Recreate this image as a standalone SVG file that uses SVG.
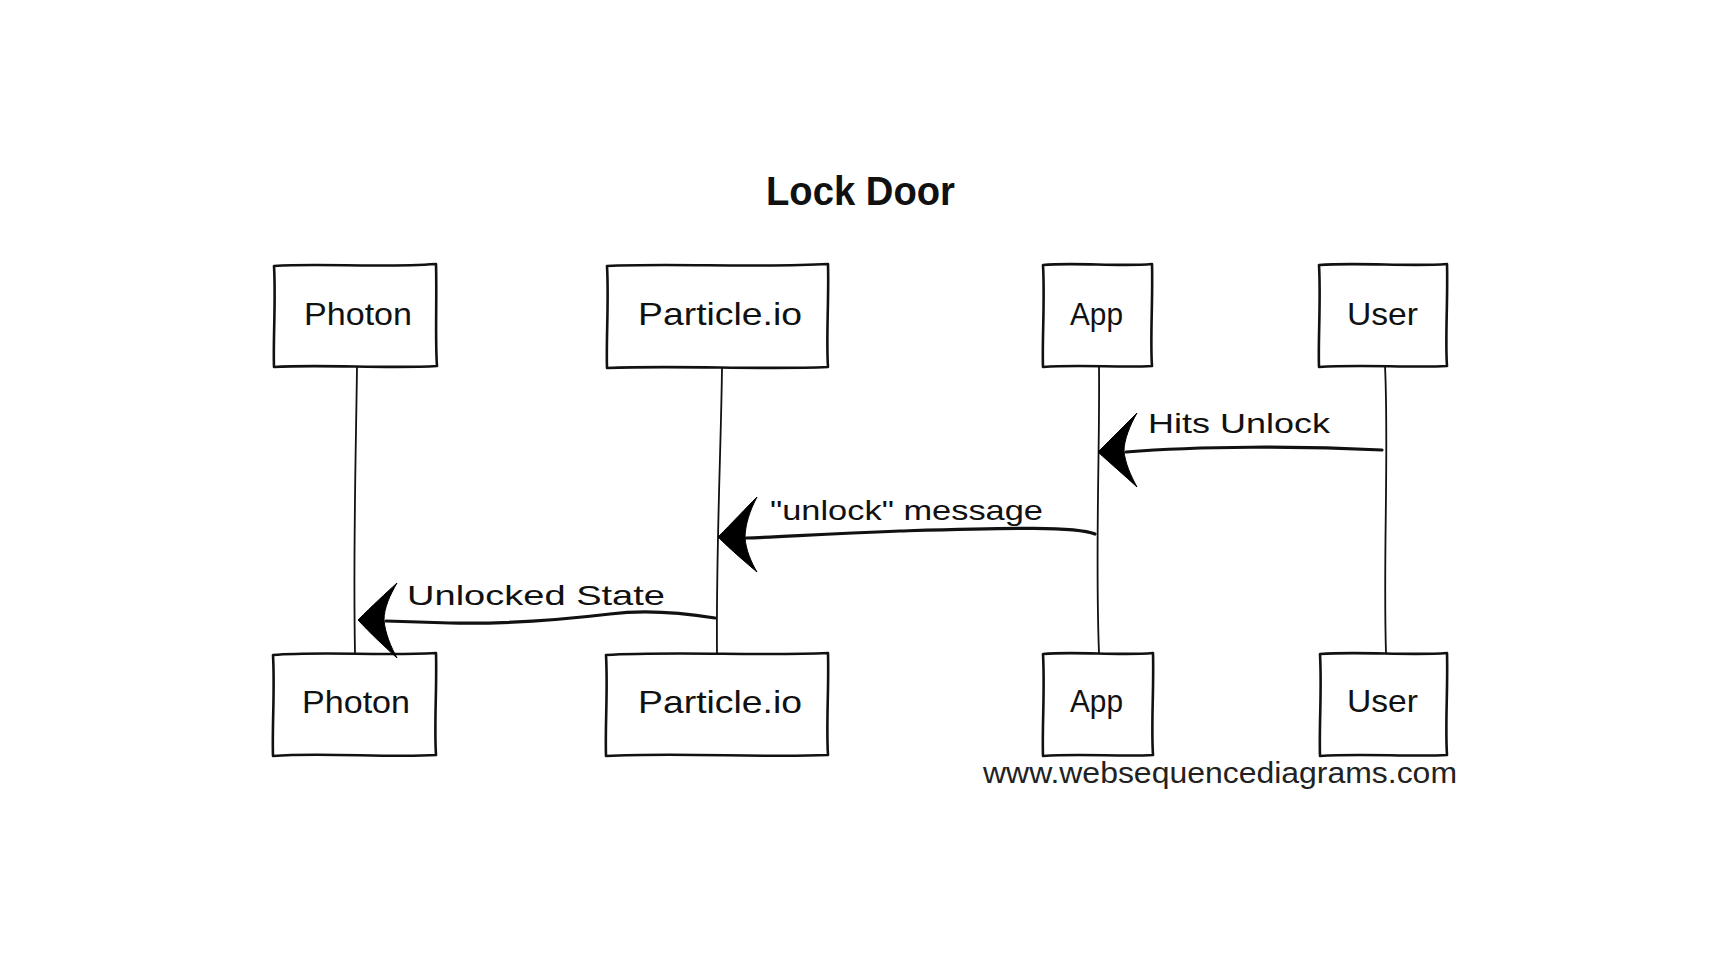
<svg xmlns="http://www.w3.org/2000/svg" width="1716" height="966" viewBox="0 0 1716 966">
<style>
.box{fill:#fff;stroke:#111;stroke-width:2.6;stroke-linejoin:round}
.life{fill:none;stroke:#111;stroke-width:1.8}
.msg{fill:none;stroke:#111;stroke-width:3.2;stroke-linecap:round}
.head{fill:#000;stroke:#000;stroke-width:1;stroke-linejoin:round}
.lbl{font-family:"Liberation Sans",Arial,sans-serif;font-size:32px;fill:#111}
.mlbl{font-family:"Liberation Sans",Arial,sans-serif;font-size:28px;fill:#111}
.title{font-family:"Liberation Sans",Arial,sans-serif;font-size:40px;font-weight:bold;fill:#111}
.wm{font-family:"Liberation Sans",Arial,sans-serif;font-size:29px;fill:#222}
</style>
<rect width="1716" height="966" fill="#fff"/>
<text class="title" x="766" y="205" textLength="189" lengthAdjust="spacingAndGlyphs">Lock Door</text>

<g id="lifelines">
<path class="life" d="M357,366 C356,450 353,550 355,653"/>
<path class="life" d="M722,368 C721,450 716,550 717,653"/>
<path class="life" d="M1099,366 C1100,450 1095,550 1099,653"/>
<path class="life" d="M1385,366 C1389,450 1383,560 1386,653"/>
</g>

<g id="photon-top">
<path class="box" d="M274,266 C320,263 380,268 436,264 C437,300 435,340 437,366 C390,369 320,364 274,367 C273,340 276,300 274,266 Z"/>
<text class="lbl" x="304" y="325" textLength="108" lengthAdjust="spacingAndGlyphs">Photon</text>
</g>
<g id="particle-top">
<path class="box" d="M607,266 C670,263 760,268 828,264 C829,300 826,340 828,367 C760,370 680,365 607,368 C606,340 609,300 607,266 Z"/>
<text class="lbl" x="638" y="325" textLength="164" lengthAdjust="spacingAndGlyphs">Particle.io</text>
</g>
<g id="app-top">
<path class="box" d="M1043,265 C1075,262 1120,267 1152,264 C1153,300 1150,340 1152,366 C1120,368 1080,364 1043,367 C1042,340 1045,300 1043,265 Z"/>
<text class="lbl" x="1070" y="325" textLength="53" lengthAdjust="spacingAndGlyphs">App</text>
</g>
<g id="user-top">
<path class="box" d="M1319,265 C1360,262 1410,267 1447,264 C1448,300 1445,340 1447,366 C1410,368 1360,364 1319,367 C1318,340 1321,300 1319,265 Z"/>
<text class="lbl" x="1347" y="325" textLength="71" lengthAdjust="spacingAndGlyphs">User</text>
</g>

<g id="photon-bottom">
<path class="box" d="M273,655 C320,651 380,656 436,653 C437,690 434,725 436,755 C390,758 320,752 273,756 C272,725 275,690 273,655 Z"/>
<text class="lbl" x="302" y="713" textLength="108" lengthAdjust="spacingAndGlyphs">Photon</text>
</g>
<g id="particle-bottom">
<path class="box" d="M606,655 C670,651 760,656 828,653 C829,690 826,725 828,755 C760,758 680,752 606,756 C605,725 608,690 606,655 Z"/>
<text class="lbl" x="638" y="713" textLength="164" lengthAdjust="spacingAndGlyphs">Particle.io</text>
</g>
<g id="app-bottom">
<path class="box" d="M1043,654 C1075,651 1120,656 1153,653 C1154,690 1151,725 1153,755 C1120,757 1080,753 1043,756 C1042,725 1045,690 1043,654 Z"/>
<text class="lbl" x="1070" y="712" textLength="53" lengthAdjust="spacingAndGlyphs">App</text>
</g>
<g id="user-bottom">
<path class="box" d="M1320,654 C1360,651 1410,656 1447,653 C1448,690 1445,725 1447,755 C1410,757 1360,753 1320,756 C1319,725 1322,690 1320,654 Z"/>
<text class="lbl" x="1347" y="712" textLength="71" lengthAdjust="spacingAndGlyphs">User</text>
</g>

<g id="connectors">
<path class="msg" d="M1382,450 C1300,446 1200,446 1126,452"/>
<path class="head" d="M1098,452 C1112,438 1126,424 1137,413 C1130,425 1124,440 1124,451 C1125,463 1131,476 1137,487 C1124,475 1110,463 1098,452 Z"/>
<text class="mlbl" x="1148" y="433" textLength="182" lengthAdjust="spacingAndGlyphs">Hits Unlock</text>

<path class="msg" d="M1095,534 C1075,526 1010,528 900,531 C820,534 780,537 746,538"/>
<path class="head" d="M718,537 C732,523 746,508 757,497 C750,510 745,525 745,538 C746,550 751,562 757,572 C744,561 730,549 718,537 Z"/>
<text class="mlbl" x="770" y="520" textLength="273" lengthAdjust="spacingAndGlyphs">"unlock" message</text>

<path class="msg" d="M715,618 C690,614 650,609 610,614 C560,620 500,624 450,623 L386,621"/>
<path class="head" d="M358,620 C372,606 386,593 397,583 C390,595 384,608 384,620 C385,633 391,647 397,658 C384,646 370,633 358,620 Z"/>
<text class="mlbl" x="407" y="605" textLength="258" lengthAdjust="spacingAndGlyphs">Unlocked State</text>
</g>

<text class="wm" x="983" y="783" textLength="474" lengthAdjust="spacingAndGlyphs">www.websequencediagrams.com</text>
</svg>
